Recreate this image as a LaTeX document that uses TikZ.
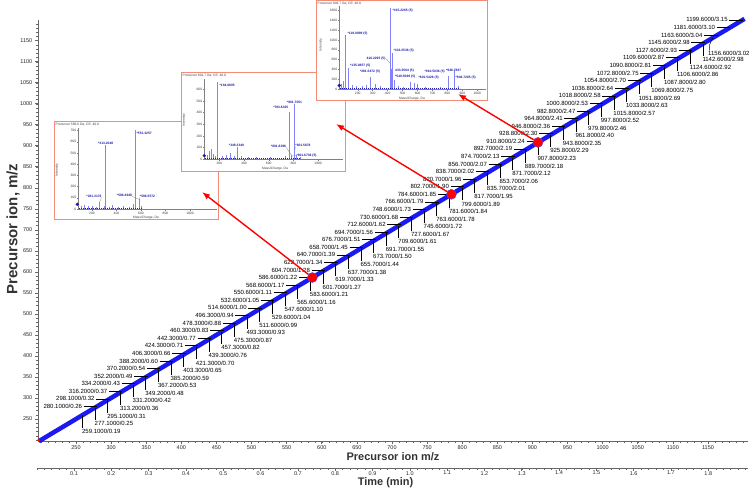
\documentclass[tikz,border=0pt]{standalone}
\usepackage{fontspec}
\setmainfont{Liberation Sans}
\usepackage{tikz}
\usetikzlibrary{arrows.meta,shapes.geometric}
\tikzset{>={Latex[width=6pt,length=8pt]}}
\definecolor{trace}{RGB}{25,25,240}
\definecolor{inframe}{RGB}{242,140,120}
\definecolor{peak}{RGB}{130,130,250}
\definecolor{peaktxt}{RGB}{30,30,170}
\tikzset{
  axis/.style={black!60,line width=0.6pt},
  ticklbl/.style={font=\fontsize{5.5}{6}\selectfont,text=black!85,inner sep=0pt},
  axtitle/.style={font=\fontsize{11}{12}\selectfont\bfseries,text=black!80,inner sep=0pt},
  mzlbl/.style={font=\fontsize{6}{6}\selectfont,inner sep=0pt},
  leader/.style={black,line width=0.5pt},
  hit/.style={circle,fill=red,draw=blue!70,line width=0.4pt,minimum size=10pt,inner sep=0pt},
  callout/.style={->,red,line width=1.4pt},
  inset/.style={draw=inframe,line width=1pt,fill=white},
  inaxis/.style={black!50,line width=0.4pt},
  inlbl/.style={font=\fontsize{3.3}{3.3}\selectfont,text=black!75,inner sep=0pt},
  peaklbl/.style={font=\fontsize{3.3}{3.3}\selectfont\bfseries,text=peaktxt,inner sep=0pt},
  inlead/.style={black!45,line width=0.3pt},
  spike/.style={draw=peak,line width=0.8pt},
  prec/.style={diamond,fill=peaktxt,inner sep=0pt,minimum size=3.8pt},
  noise/.style={peaktxt,line width=0.9pt,dash pattern=on 0.8pt off 1.2pt}
}

\begin{document}
\begin{tikzpicture}[x=1pt,y=-1pt]
\useasboundingbox (0,0) rectangle (750,497);

% precursor axes
\draw[axis] (38,20) -- (38,441) -- (748,441);
\foreach \v in {200,210,...,1200}{
  \pgfmathsetmacro\px{76+(\v-250)*0.70222}
  \draw[axis,line width=0.4pt] (\px,441) -- (\px,442.8);
}
\foreach \v in {250,300,...,1150}{
  \pgfmathsetmacro\px{76+(\v-250)*0.70222}
  \draw[axis] (\px,441) -- (\px,444);
  \node[ticklbl,anchor=north] (xt\v) at (\px,445) {\v};
}
\foreach \v in {200,210,...,1190}{
  \pgfmathsetmacro\py{419-(\v-250)*0.42033}
  \draw[axis,line width=0.4pt] (38,\py) -- (36.2,\py);
}
\foreach \v in {250,300,...,1150}{
  \pgfmathsetmacro\py{419-(\v-250)*0.42033}
  \draw[axis] (38,\py) -- (35,\py);
  \node[ticklbl,anchor=east] (yt\v) at (32.5,\py) {\v};
}
\node[axtitle] (xtitle) at (393,456.5) {Precursor ion m/z};
\node[font=\fontsize{15}{15}\selectfont\bfseries,text=black!80,rotate=90,inner sep=0pt] (ytitle) at (13,229) {Precursor ion, m/z};

% time axis
\draw[axis] (37,468) -- (748,468);
\foreach \k in {0,...,95}{
  \pgfmathsetmacro\px{36.7+\k*7.462}
  \draw[axis,line width=0.4pt] (\px,468) -- (\px,469.8);
}
\foreach \t in {0.1,0.2,0.3,0.4,0.5,0.6,0.7,0.8,0.9,1.0,1.1,1.2,1.3,1.4,1.5,1.6,1.7,1.8}{
  \pgfmathsetmacro\px{36.7+\t*373.1}
  \draw[axis] (\px,468) -- (\px,471);
  \node[ticklbl,anchor=north] (tt\t) at (\px,471) {\t};
}
\node[axtitle] (ttitle) at (385.5,483) {Time (min)};

% diagonal trace
\coordinate (lo) at ({76+(197-250)*0.70222},{419-(197-250)*0.42033});
\coordinate (hi) at ({76+(1202-250)*0.70222},{419-(1202-250)*0.42033});
\draw[trace,line width=4.5pt] (lo) -- (hi);
\node[circle,fill=red,minimum size=3pt,inner sep=0pt] (orig) at (39,440) {};

\foreach \m/\t in {280.1000/0.26,298.1000/0.32,316.2000/0.37,334.2000/0.43,352.2000/0.49,370.2000/0.54,388.2000/0.60,406.3000/0.66,424.3000/0.71,442.3000/0.77,460.3000/0.83,478.3000/0.88,496.3000/0.94,514.6000/1.00,532.6000/1.05,550.6000/1.11,568.6000/1.17,586.6000/1.22,604.7000/1.28,622.7000/1.34,640.7000/1.39,658.7000/1.45,676.7000/1.51,694.7000/1.56,712.6000/1.62,730.6000/1.68,748.6000/1.73,766.6000/1.79,784.6000/1.85,802.7000/1.90,820.7000/1.96,838.7000/2.02,856.7000/2.07,874.7000/2.13,892.7000/2.19,910.8000/2.24,928.8000/2.30,946.8000/2.36,964.8000/2.41,982.8000/2.47,1000.8000/2.53,1018.8000/2.58,1036.8000/2.64,1054.8000/2.70,1072.8000/2.75,1090.8000/2.81,1109.6000/2.87,1127.6000/2.93,1145.6000/2.98,1163.6000/3.04,1181.6000/3.10,1199.6000/3.15}{
  \pgfmathsetmacro\px{76+(\m-250)*0.70222}
  \pgfmathsetmacro\py{419-(\m-250)*0.42033}
  \coordinate (pt) at (\px,\py);
  \node[mzlbl,anchor=east] (lb) at ({\px-15},\py) {\m/\t};
  \draw[leader,shorten <=1.5pt] (lb.east) -- (pt);
}
\foreach \m/\t in {259.1000/0.19,277.1000/0.25,295.1000/0.31,313.2000/0.36,331.2000/0.42,349.2000/0.48,367.2000/0.53,385.2000/0.59,403.3000/0.65,421.3000/0.70,439.3000/0.76,457.3000/0.82,475.3000/0.87,493.3000/0.93,511.6000/0.99,529.6000/1.04,547.6000/1.10,565.6000/1.16,583.6000/1.21,601.7000/1.27,619.7000/1.33,637.7000/1.38,655.7000/1.44,673.7000/1.50,691.7000/1.55,709.6000/1.61,727.6000/1.67,745.6000/1.72,763.6000/1.78,781.6000/1.84,799.6000/1.89,817.7000/1.95,835.7000/2.01,853.7000/2.06,871.7000/2.12,889.7000/2.18,907.8000/2.23,925.8000/2.29,943.8000/2.35,961.8000/2.40,979.8000/2.46,997.8000/2.52,1015.8000/2.57,1033.8000/2.63,1051.8000/2.69,1069.8000/2.75,1087.8000/2.80,1106.6000/2.86,1124.6000/2.92,1142.6000/2.98}{
  \pgfmathsetmacro\px{76+(\m-250)*0.70222}
  \pgfmathsetmacro\py{419-(\m-250)*0.42033}
  \coordinate (pt) at (\px,\py);
  \node[mzlbl,anchor=north west] (lb) at ({\px-0.5},{\py+13.5}) {\m/\t};
  \draw[leader,shorten >=1pt] (pt) -- (pt |- lb.north);
}
\coordinate (ptz) at ({76+(1156.6-250)*0.70222},{419-(1156.6-250)*0.42033});
\node[mzlbl,anchor=north west] (lbz) at (708,50.5) {1156.6000/3.02};
\coordinate (kz) at (709.5,45);
\draw[leader] (ptz) -- (kz) -- (kz |- lbz.north);

% inset 1
\draw[inset] (54,122) rectangle (218,220);
\node[inlbl,anchor=west] (ttlA) at (55.5,124.8) {Precursor 586.6 Da; CE: 40.0};
\draw[inaxis] (78.3,128) -- (78.3,209) -- (217,209);
\foreach \v in {0,100,...,700}{
  \pgfmathsetmacro\yy{209-\v*0.112}
  \draw[inaxis] (77,\yy) -- (78.3,\yy);
  \node[inlbl,anchor=east] (ytA\v) at (76.3,\yy) {\v};
}
\foreach \v in {100,150,...,1200}{
  \pgfmathsetmacro\xx{92+(\v-200)*0.1225}
  \draw[inaxis] (\xx,209) -- (\xx,210);
}
\foreach \v in {200,400,...,1000}{
  \pgfmathsetmacro\xx{92+(\v-200)*0.1225}
  \draw[inaxis] (\xx,209) -- (\xx,210.8);
  \node[inlbl,anchor=north] (xtA\v) at (\xx,211.8) {\v};
}
\node[inlbl,rotate=90] (yaA) at (57,170) {Intensity};
\node[inlbl] (xaA) at (146,217.3) {Mass/Charge, Da};
\foreach \x/\h in {81/3,84/4,88/2.5,92/3,96/2,99.5/7,104/3,105.7/64,109/2,112/4,118/2,123/3,129/2,133/5,135.3/79,139.3/10,141/3}{
  \draw[spike] (\x,209) -- ({\x},{209-\h});
}
\draw[noise] (79,208.3) -- (142,208.3);
\node[prec] (prA) at (77.3,204.3) {};
\node[peaklbl,anchor=south] (pkA1) at (105.7,144.3) {*313.2048};
\node[peaklbl,anchor=west] (pkA2) at (136.5,133.3) {*551.3257};
\node[peaklbl] (pkA3) at (94,196) {*261.3176};
\node[peaklbl] (pkA4) at (124.5,195) {*586.4948};
\node[peaklbl] (pkA5) at (147.5,196) {*586.5572};
\coordinate (fA3) at (99.5,202);
\coordinate (fA4) at (139.3,199.5);
\draw[inlead] (pkA3.south east) -- (fA3);
\draw[inlead] (pkA4.south east) -- (fA4);
\draw[inlead] (pkA5.south west) -- (fA4);

% inset 2
\draw[inset] (181,73) rectangle (345,172);
\node[inlbl,anchor=west] (ttlB) at (182.5,76) {Precursor 801.7 Da; CE: 40.0};
\draw[inaxis] (204.3,79) -- (204.3,159.3) -- (343,159.3);
\foreach \v in {0,100,...,600}{
  \pgfmathsetmacro\yy{159.3-\v*0.1167}
  \draw[inaxis] (203,\yy) -- (204.3,\yy);
  \node[inlbl,anchor=east] (ytB\v) at (202.3,\yy) {\v};
}
\foreach \v in {100,150,...,1150}{
  \pgfmathsetmacro\xx{219.3+(\v-200)*0.1235}
  \draw[inaxis] (\xx,159.3) -- (\xx,160.3);
}
\foreach \v in {200,400,...,1000}{
  \pgfmathsetmacro\xx{219.3+(\v-200)*0.1235}
  \draw[inaxis] (\xx,159.3) -- (\xx,161.1);
  \node[inlbl,anchor=north] (xtB\v) at (\xx,162.2) {\v};
}
\node[inlbl,rotate=90] (yaB) at (184,120) {Intensity};
\node[inlbl] (xaB) at (275,169) {Mass/Charge, Da};
\foreach \x/\h in {207/4,209/8,211.7/10,213.5/5,215/3,217.7/77.6,222/3,226/4,230/6,234/3,237.3/12,241/3,248/2,256/2,270/2,285/3,289.3/47.6,291/4,294/55,296.5/4,300/2}{
  \draw[spike] (\x,159.3) -- ({\x},{159.3-\h});
}
\draw[noise] (205,158.6) -- (300,158.6);
\node[prec] (prB) at (204.3,155.7) {};
\node[peaklbl,anchor=west] (pkB1) at (219.5,85) {*184.0805};
\node[peaklbl,anchor=south east] (pkB2) at (288.5,108.8) {*783.6325};
\node[peaklbl,anchor=south] (pkB3) at (294.5,103.5) {*801.7051};
\node[peaklbl,anchor=south] (pkB4) at (236.5,146.3) {*349.3349};
\node[peaklbl] (pkB5) at (278.5,146) {*801.6396};
\node[peaklbl] (pkB6) at (303,145) {*801.5678};
\node[peaklbl] (pkB7) at (306.5,155.7) {*801.6738 (5)};
\coordinate (fB5) at (292,156);
\coordinate (fB6) at (295,150);
\draw[inlead] (pkB5.south east) -- (fB5);
\draw[inlead] (pkB6.south west) -- (fB6);
\draw[inlead] (pkB7.west) -- (fB5);

% inset 3
\draw[inset] (316,1) rectangle (487,101);
\node[inlbl,anchor=west] (ttlC) at (317.5,3.6) {Precursor 946.7 Da; CE: 40.0};
\draw[inaxis] (339.3,6) -- (339.3,89) -- (486,89);
\foreach \v in {0,200,...,1600}{
  \pgfmathsetmacro\yy{89-\v*0.04895}
  \draw[inaxis] (338,\yy) -- (339.3,\yy);
  \node[inlbl,anchor=east] (ytC\v) at (337.3,\yy) {\v};
}
\foreach \v in {100,150,...,1050}{
  \pgfmathsetmacro\xx{357.7+(\v-200)*0.1495}
  \draw[inaxis] (\xx,89) -- (\xx,90);
}
\foreach \v in {200,300,...,1000}{
  \pgfmathsetmacro\xx{357.7+(\v-200)*0.1495}
  \draw[inaxis] (\xx,89) -- (\xx,90.8);
  \node[inlbl,anchor=north] (xtC\v) at (\xx,91.8) {\v};
}
\node[inlbl,rotate=90] (yaC) at (320.7,45) {Intensity};
\node[inlbl] (xaC) at (412,98.7) {Mass/Charge, Da};
\foreach \x/\h in {341/5,343/8,345.3/54,348.7/21,352/4,356/3,362/3,366/4,370.3/12,375/5,380/3,390/81,391.2/20,392.7/36,394/9,398/3,403/2,410/7,414/6,417.3/5,425/2,440/2,448.3/13,454/19,458/3}{
  \draw[spike] (\x,89) -- ({\x},{89-\h});
}
\draw[noise] (340,88.3) -- (460,88.3);
\node[prec] (prC) at (339.3,85.5) {};
\node[peaklbl,anchor=west] (pkC1) at (347.5,33.3) {*119.0899 (5)};
\node[peaklbl,anchor=west] (pkC2) at (350,65.7) {*135.0857 (5)};
\node[peaklbl] (pkC3) at (370,71.7) {*281.5472 (5)};
\node[peaklbl,anchor=west] (pkC4) at (392.5,11) {*415.2265 (5)};
\node[peaklbl] (pkC5) at (376,58.3) {416.2295 (5)};
\node[peaklbl,anchor=west] (pkC6) at (393.5,50.7) {*432.2536 (5)};
\node[peaklbl,anchor=west] (pkC7) at (395,71) {433.2564 (5)};
\node[peaklbl,anchor=west] (pkC8) at (395,77) {*549.5069 (5)};
\node[peaklbl,anchor=west] (pkC9) at (418.5,77.3) {*601.5426 (5)};
\node[peaklbl,anchor=west] (pkC10) at (424.5,71.7) {*910.5036 (5)};
\node[peaklbl,anchor=west] (pkC11) at (446,70.7) {*946.7867};
\node[peaklbl,anchor=west] (pkC12) at (455.5,77.3) {*946.7265 (5)};
\coordinate (fC5) at (389.8,63);
\draw[inlead] (pkC5.east) -- (fC5);

% selected precursors
\node[hit] (hitA) at ({76+(586.6-250)*0.70222},{419-(586.6-250)*0.42033}) {};
\node[hit] (hitB) at ({76+(784.6-250)*0.70222},{419-(784.6-250)*0.42033}) {};
\node[hit] (hitC) at ({76+(908-250)*0.70222},{419-(908-250)*0.42033}) {};
\coordinate (tipA) at (202,192);
\coordinate (tipB) at (336,124);
\coordinate (tipC) at (458,94);
\draw[callout] (hitA) -- (tipA);
\draw[callout] (hitB) -- (tipB);
\draw[callout] (hitC) -- (tipC);

\end{tikzpicture}
\end{document}
